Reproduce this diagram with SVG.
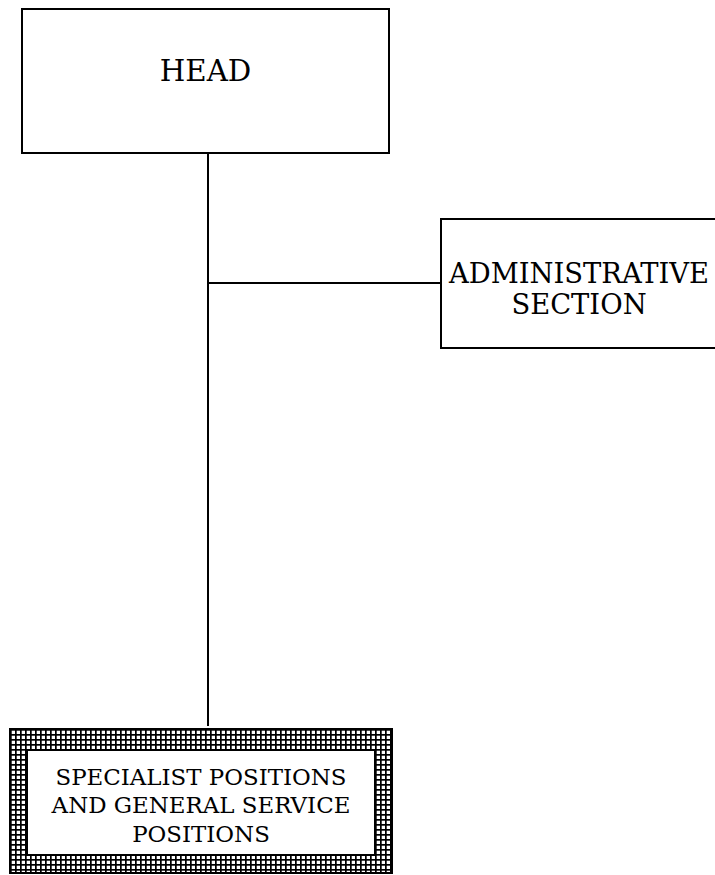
<svg xmlns="http://www.w3.org/2000/svg" width="715" height="875" viewBox="0 0 715 875">
  <style>
    .box { fill: #ffffff; stroke: #000000; stroke-width: 2; }
    .line { stroke: #000000; stroke-width: 2; fill: none; }
    .lbl { font-family: "DejaVu Serif", "Liberation Serif", serif; fill: #000000; text-anchor: middle; }
  </style>
  <defs>
    <pattern id="grid" patternUnits="userSpaceOnUse" x="10" y="729" width="5" height="5">
      <rect x="0" y="0" width="5" height="5" fill="#ffffff"/>
      <rect x="0" y="0" width="5" height="1.7" fill="#000000"/>
      <rect x="0" y="0" width="1.7" height="5" fill="#000000"/>
    </pattern>
  </defs>
  <rect x="0" y="0" width="715" height="875" fill="#ffffff"/>
  <g id="connectors">
    <line class="line" x1="208" y1="153" x2="208" y2="726"/>
    <line class="line" x1="208" y1="283" x2="441" y2="283"/>
  </g>
  <g id="head">
    <rect class="box" x="22" y="9" width="367" height="144"/>
    <text class="lbl" x="205.5" y="81" font-size="29.3">HEAD</text>
  </g>
  <g id="admin">
    <rect class="box" x="441" y="219" width="290" height="129"/>
    <text class="lbl" x="579" y="283" font-size="27.4">ADMINISTRATIVE</text>
    <text class="lbl" x="579" y="314" font-size="27.4">SECTION</text>
  </g>
  <g id="specialist">
    <rect x="10" y="729" width="382" height="144" fill="url(#grid)" stroke="#000000" stroke-width="2"/>
    <rect class="box" x="27" y="750" width="348" height="105"/>
    <text class="lbl" x="201" y="785" font-size="22.9">SPECIALIST POSITIONS</text>
    <text class="lbl" x="201" y="813" font-size="22.9">AND GENERAL SERVICE</text>
    <text class="lbl" x="201" y="842" font-size="22.9">POSITIONS</text>
  </g>
</svg>
